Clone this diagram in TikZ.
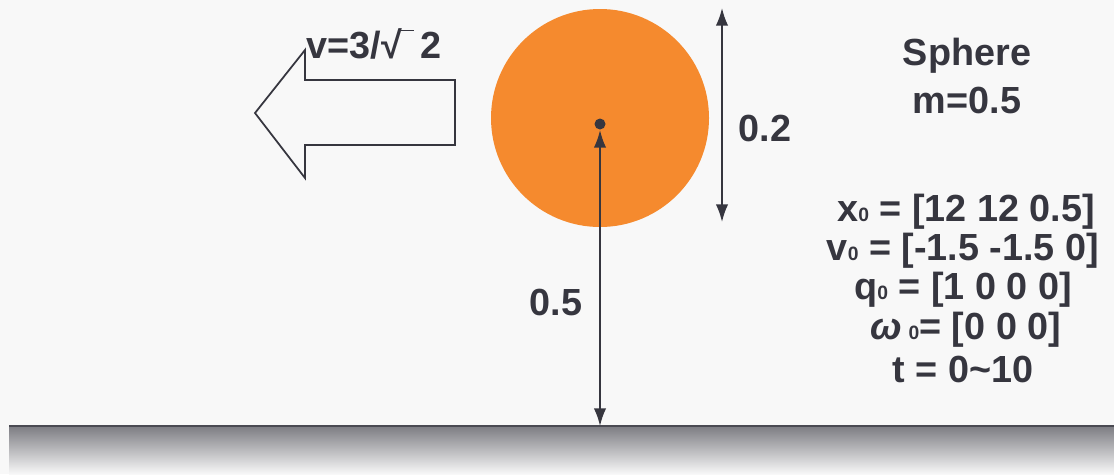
\documentclass[tikz,border=0pt]{standalone}
\usepackage{fontspec}
\setmainfont{Liberation Sans}
\usetikzlibrary{arrows.meta}
\definecolor{ballorange}{HTML}{F58A2E}
\definecolor{inkgrey}{HTML}{36363F}
\definecolor{paper}{HTML}{F8F8F8}
\tikzset{
  lbl/.style = {font=\bfseries\fontsize{21.5}{25}\selectfont, text=inkgrey, inner sep=0pt},
  dim/.style = {inkgrey, line width=1pt, {Latex[length=10pt,width=7pt]}-{Latex[length=10pt,width=7pt]}}
}
\newcommand{\zsub}{{\fontsize{11}{11}\selectfont 0}}
\begin{document}
\begin{tikzpicture}[x=0.02cm, y=-0.02cm]
\fill[paper] (0,0) rectangle (1114,474);
\useasboundingbox (0,0) rectangle (1114,474);
% floor
\shade[top color=inkgrey!65, bottom color=paper] (9,426) rectangle (1114,474);
\draw[inkgrey!90, line width=1.2pt] (9,426) -- (1114,426);
% sphere
\fill[ballorange] (600,118) circle [radius=109];
\fill[inkgrey] (600,124) circle [radius=5.5];
\coordinate (centre) at (600,130);
\coordinate (ground) at (600,426);
\coordinate (top) at (722,8);
\coordinate (bottom) at (722,222);
\draw[dim] (centre) -- (ground);
\draw[dim] (top) -- (bottom);
\node[lbl] at (765,128) (diam) {0.2};
\node[lbl] at (556,302) (height) {0.5};
% velocity arrow
\draw[inkgrey, line width=1pt, line join=miter] (455,80) -- (305,80) -- (305,50) -- (255,113)
  -- (305,178) -- (305,145) -- (455,145) -- cycle;
\node[lbl] at (374,44) (vel) {v=3/√\kern-0.02em\rule[0.72em]{0.35em}{0.8pt}\,2};
% data
\node[lbl] at (967,56) (name) {Sphere};
\node[lbl] at (967,100) (mass) {m=0.5};
\node[lbl] at (966,212) (x0) {x\zsub{} = [12 12 0.5]};
\node[lbl] at (963,251) (v0) {v\zsub{} = [-1.5 -1.5 0]};
\node[lbl] at (963,290) (q0) {q\zsub{} = [1 0 0 0]};
\node[lbl] at (966,330) (w0) {{\itshape ω}\,\zsub= [0 0 0]};
\node[lbl] at (963,369) (tt) {t = 0\textasciitilde 10};
\end{tikzpicture}
\end{document}
